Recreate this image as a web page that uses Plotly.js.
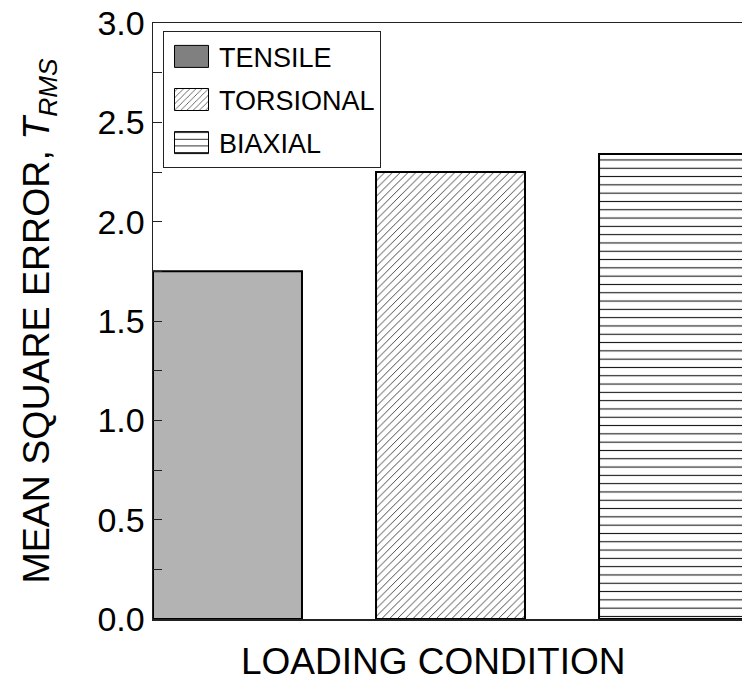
<!DOCTYPE html>
<html>
<head>
<meta charset="utf-8">
<script src="https://cdn.plot.ly/plotly-3.0.1.min.js"></script>
<style>html,body{margin:0;padding:0;background:#fff;}#chart{width:742px;height:684px;}</style>
</head>
<body>
<div id="chart"></div>
<script>
const categories = ["TENSILE", "TORSIONAL", "BIAXIAL"];
const values = [1.75, 2.25, 2.34];
const legendNames = ["TENSILE", "TORSIONAL", "BIAXIAL"];
const yTickVals = [0, 0.5, 1.0, 1.5, 2.0, 2.5, 3.0];
const yTickText = ["0.0", "0.5", "1.0", "1.5", "2.0", "2.5", "3.0"];

const barFills = ["#b3b3b3", "#ffffff", "#ffffff"];
const legendFills = ["#808080", "#ffffff", "#ffffff"];
const patterns = [
  {shape: ""},
  {shape: "/", size: 5.5, solidity: 0.15, fgcolor: "#222", bgcolor: "#fff"},
  {shape: "-", size: 8.3, solidity: 0.13, fgcolor: "#111", bgcolor: "#fff"}
];

const traces = [];
categories.forEach((c, i) => {
  traces.push({
    type: "bar", x: [c], y: [values[i]], name: legendNames[i], showlegend: false,
    width: 0.668,
    marker: {color: barFills[i], pattern: patterns[i], line: {color: "#000", width: 2}},
    hoverinfo: "x+y"
  });
});
categories.forEach((c, i) => {
  traces.push({
    type: "bar", x: [c], y: [null], name: legendNames[i], showlegend: true,
    legendgroup: "g" + i, width: 0.668,
    marker: {color: legendFills[i], pattern: patterns[i], line: {color: "#000", width: 1}}
  });
});

const font = "Liberation Sans, Arial, sans-serif";
const layout = {
  width: 742, height: 684,
  margin: {l: 153, r: 0, t: 23, b: 65},
  paper_bgcolor: "#fff", plot_bgcolor: "#fff",
  barmode: "overlay",
  font: {family: font, color: "#000"},
  showlegend: true,
  legend: {
    x: 0.017, y: 0.986, xanchor: "left", yanchor: "top",
    bordercolor: "#222", borderwidth: 1, bgcolor: "#fff",
    font: {size: 27, family: font}, tracegroupgap: 5, itemwidth: 45,
    traceorder: "grouped"
  },
  xaxis: {
    type: "category", categoryorder: "array", categoryarray: categories,
    range: [-0.334, 2.307], showticklabels: false, ticks: "",
    showline: true, linecolor: "#222", linewidth: 1.5, mirror: true,
    showgrid: false, zeroline: false, fixedrange: true
  },
  yaxis: {
    range: [0, 3], tickvals: yTickVals, ticktext: yTickText,
    ticks: "inside", ticklen: 9, tickwidth: 1, tickcolor: "#222",
    minor: {dtick: 0.25, ticks: "inside", ticklen: 9, tickwidth: 1, tickcolor: "#222"},
    showline: true, linecolor: "#222", linewidth: 1.5,
    showgrid: false, zeroline: false,
    tickfont: {size: 34, family: font},
    title: {text: "MEAN SQUARE ERROR, <i>T</i><sub><i>RMS</i></sub>", font: {size: 37.5, family: font}, standoff: 36},
    automargin: false, fixedrange: true
  },
  annotations: [{
    text: "LOADING CONDITION", xref: "paper", yref: "paper",
    x: 0.476, y: -0.071, xanchor: "center", yanchor: "middle",
    showarrow: false, font: {size: 37, family: font}
  }]
};

Plotly.newPlot("chart", traces, layout, {displayModeBar: false, staticPlot: true}).then(() => {
  document.querySelectorAll("#chart .legend .legendpoints path").forEach(p => {
    p.setAttribute("d", "M-17,-11H17V11H-17Z");
  });
});
</script>
</body>
</html>
